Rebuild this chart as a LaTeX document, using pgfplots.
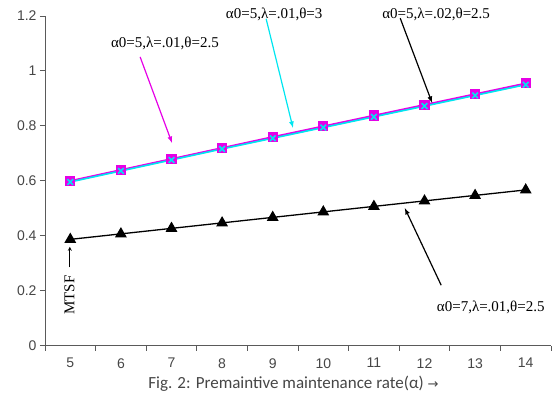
\documentclass[border=0pt]{standalone}
\usepackage{pgfplots}
\pgfplotsset{compat=1.18}
\usepackage{fontspec}
\setmainfont{Liberation Serif}
\newfontfamily\tickfont{Liberation Sans}
\newfontfamily\capfont{Carlito}
\newfontfamily\symfont{DejaVu Sans}
\newcommand{\tkf}{\tickfont\fontsize{14}{16}\selectfont}
\definecolor{mag}{RGB}{230,0,230}
\definecolor{cy}{RGB}{0,230,240}
\definecolor{bl}{RGB}{110,90,230}
\definecolor{axgray}{RGB}{90,90,90}
\definecolor{lblgray}{RGB}{70,70,70}
\begin{document}
\begin{tikzpicture}[x=1pt,y=1pt]
\useasboundingbox (-45,-52.3) rectangle (510,345.7);
\begin{axis}[
  at={(0,0)}, anchor=south west,
  scale only axis, width=506pt, height=329.7pt,
  xmin=4.5, xmax=14.5, ymin=0, ymax=1.2,
  axis x line*=bottom, axis y line*=left,
  axis line style={axgray, line width=0.9pt},
  xtick={4.5,5.5,...,14.5},
  x tick label as interval,
  xticklabels={{\tkf 5},{\tkf 6},{\tkf 7},{\tkf 8},{\tkf 9},{\tkf 10},{\tkf 11},{\tkf 12},{\tkf 13},{\tkf 14}},
  ytick={0,0.2,...,1.2},
  yticklabels={{\tkf 0},{\tkf 0.2},{\tkf 0.4},{\tkf 0.6},{\tkf 0.8},{\tkf 1},{\tkf 1.2}},
  tick style={axgray, line width=0.9pt},
  tick align=outside, major tick length=5pt,
  xticklabel style={text=lblgray, yshift=-4pt},
  yticklabel style={text=lblgray},
  /pgf/number format/assume math mode=true,
  clip=false,
]
\addplot[color=bl, line width=1.6pt, mark=none] coordinates {
(5,0.598)(6,0.638)(7,0.678)(8,0.718)(9,0.757)(10,0.796)(11,0.835)(12,0.874)(13,0.913)(14,0.952)};
\addplot[color=mag, line width=1.6pt, mark=square*, mark size=4.3pt, mark options={fill=mag,draw=mag}] coordinates {
(5,0.600)(6,0.640)(7,0.680)(8,0.720)(9,0.760)(10,0.799)(11,0.838)(12,0.877)(13,0.916)(14,0.955)};
\addplot[color=cy, line width=1.6pt, mark=x, mark size=4pt, mark options={draw=cy, line width=1.6pt}] coordinates {
(5,0.596)(6,0.636)(7,0.676)(8,0.716)(9,0.755)(10,0.794)(11,0.833)(12,0.872)(13,0.911)(14,0.950)};
\addplot[color=black, line width=1.3pt, mark=triangle*, mark size=5.5pt, mark options={fill=black}] coordinates {
(5,0.387)(6,0.407)(7,0.427)(8,0.447)(9,0.467)(10,0.487)(11,0.507)(12,0.527)(13,0.547)(14,0.567)};

\node[font=\fontsize{15}{17}\selectfont] at (axis cs:6.87,1.102) {α0=5,λ=.01,θ=2.5};
\draw[-latex, mag, line width=1.2pt] (axis cs:6.38,1.051) -- (axis cs:7.01,0.738);
\node[font=\fontsize{15}{17}\selectfont] at (axis cs:9.03,1.207) {α0=5,λ=.01,θ=3};
\draw[-latex, cy, line width=1.2pt] (axis cs:8.87,1.190) -- (axis cs:9.40,0.793);
\node[font=\fontsize{15}{17}\selectfont] at (axis cs:12.23,1.207) {α0=5,λ=.02,θ=2.5};
\draw[-latex, black, line width=1.2pt] (axis cs:11.52,1.192) -- (axis cs:12.15,0.884);
\node[font=\fontsize{15}{17}\selectfont] at (axis cs:13.31,0.141) {α0=7,λ=.01,θ=2.5};
\draw[-latex, black, line width=1.2pt] (axis cs:12.33,0.22) -- (axis cs:11.61,0.501);
\node[rotate=90, font=\fontsize{15}{17}\selectfont, anchor=base west, inner sep=0pt] (m) at (axis cs:5.08,0.112) {MTSF};
\draw[-stealth, line width=0.8pt] (axis cs:4.99,0.285) -- (axis cs:4.99,0.36);
\node[font=\capfont\fontsize{17}{19}\selectfont, text=lblgray] at (axis cs:9.41,-0.139) {Fig. 2: Premaintive maintenance rate(α) {\symfont\fontsize{13}{15}\selectfont →}};
\end{axis}
\end{tikzpicture}
\end{document}
